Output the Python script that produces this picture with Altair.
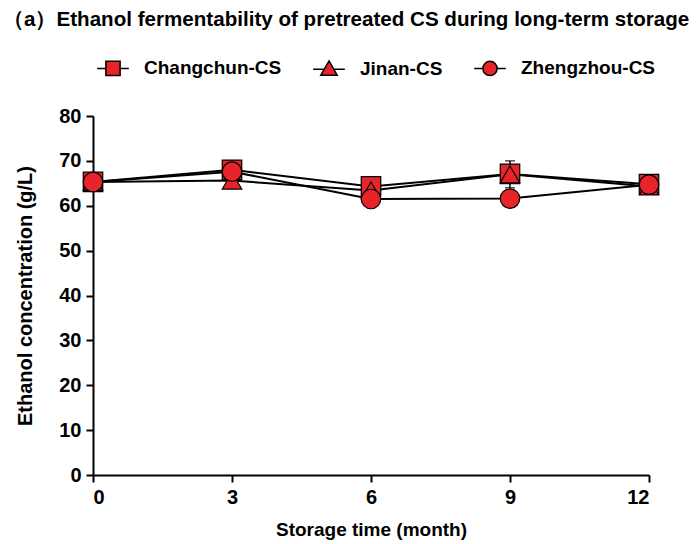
import altair as alt
import pandas as pd

# Storage time points (months)
months = [0, 3, 6, 9, 12]
series_names = ["Changchun-CS", "Jinan-CS", "Zhengzhou-CS"]

# Ethanol concentration (g/L) per storage site
changchun = [65.3, 68.0, 64.3, 67.1, 64.8]
jinan = [65.3, 65.6, 63.4, 67.0, 64.3]
zhengzhou = [65.3, 67.6, 61.5, 61.6, 64.7]

# Standard deviations
changchun_err = [0.6, 0.8, 0.7, 1.0, 0.8]
jinan_err = [0.5, 0.9, 0.8, 3.0, 0.9]
zhengzhou_err = [0.6, 0.7, 0.8, 1.0, 0.7]

rows = []
for name, vals, errs in zip(series_names,
                            [changchun, jinan, zhengzhou],
                            [changchun_err, jinan_err, zhengzhou_err]):
    for m, v, e in zip(months, vals, errs):
        rows.append({"series": name, "month": m, "value": v,
                     "lo": v - e, "hi": v + e})
df = pd.DataFrame(rows)

FONT = "Liberation Sans"
RED = "#e8232a"

x_enc = alt.X("month:Q",
              scale=alt.Scale(domain=[0, 12], nice=False, zero=False),
              axis=alt.Axis(values=months, title="Storage time (month)"))
y_enc = alt.Y("value:Q",
              scale=alt.Scale(domain=[0, 80], nice=False),
              axis=alt.Axis(values=list(range(0, 81, 10)),
                            title="Ethanol concentration (g/L)"))

base = alt.Chart(df)

err_rule = base.mark_rule(color="black", strokeWidth=1.5).encode(
    x="month:Q", y="lo:Q", y2="hi:Q", detail="series:N")
err_lo = base.mark_tick(color="black", thickness=1.5, size=10, orient="horizontal").encode(
    x="month:Q", y="lo:Q")
err_hi = base.mark_tick(color="black", thickness=1.5, size=10, orient="horizontal").encode(
    x="month:Q", y="hi:Q")

lines = base.mark_line(color="black", strokeWidth=2).encode(
    x=x_enc, y=y_enc, detail="series:N", order="month:Q")

points = base.mark_point(filled=True, fill=RED, stroke="black", strokeWidth=1.2,
                         size=380, opacity=1).encode(
    x="month:Q", y="value:Q",
    shape=alt.Shape("series:N",
                    scale=alt.Scale(domain=series_names,
                                    range=["square", "triangle-up", "circle"]),
                    legend=None))

# Legend symbols: marker with a line stub on both sides
legend_paths = [
    "M-1,0H-0.45M0.45,0H1M-0.45,-0.45H0.45V0.45H-0.45Z",
    "M-1,0.05H-0.27M0.27,0.05H1M0,-0.48L0.52,0.42H-0.52Z",
    "M-1,0H-0.45M0.45,0H1M0.45,0A0.45,0.45 0 1 1 -0.45,0A0.45,0.45 0 1 1 0.45,0Z",
]
legend_layer = base.transform_filter("false").mark_point(
    filled=True, fill=RED, stroke="black", strokeWidth=1.5, opacity=1).encode(
    x="month:Q", y="value:Q",
    shape=alt.Shape("series:N",
                    scale=alt.Scale(domain=series_names, range=legend_paths),
                    legend=alt.Legend(title=None, orient="none", direction="horizontal",
                                      legendX=3, legendY=-65, symbolSize=1000,
                                      symbolStrokeWidth=1.5, labelOffset=14,
                                      columnPadding=28, labelFont=FONT,
                                      labelFontSize=19, labelFontWeight="bold",
                                      labelColor="black")))

chart = alt.layer(err_rule, err_lo, err_hi, lines, points, legend_layer).resolve_scale(
    shape="independent"
).properties(
    width=556, height=359,
    padding={"left": 93, "top": 116, "right": 51, "bottom": 69},
    autosize=alt.AutoSizeParams(type="none"),
    title=alt.TitleParams("（a）Ethanol fermentability of pretreated CS during long-term storage",
                          anchor="start", frame="group", dx=-90, offset=20,
                          font=FONT, fontSize=20.6, fontWeight="bold", color="black"),
).configure_view(stroke=None).configure_axis(
    domainColor="black", domainWidth=2, tickColor="black", tickWidth=2, tickSize=7,
    grid=False, labelFont=FONT, labelFontSize=20, labelFontWeight="bold",
    labelColor="black", titleFont=FONT, titleFontSize=20, titleFontWeight="bold",
    titleColor="black",
).configure_axisX(titlePadding=13, labelPadding=5, titleFontSize=19).configure_axisY(
    titlePadding=23, labelPadding=5)

chart.save("out.html", embed_options={"renderer": "svg", "actions": False})
